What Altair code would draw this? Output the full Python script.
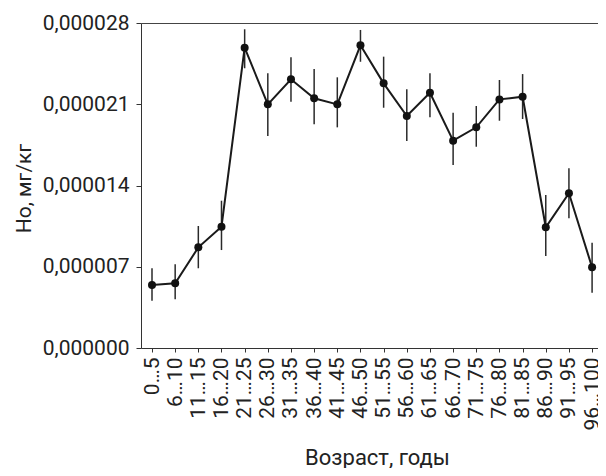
import json
import altair as alt
import pandas as pd

categories = ["0…5", "6…10", "11…15", "16…20", "21…25", "26…30", "31…35",
              "36…40", "41…45", "46…50", "51…55", "56…60", "61…65", "66…70",
              "71…75", "76…80", "81…85", "86…90", "91…95", "96…100"]
means = [5.43e-6, 5.57e-6, 8.67e-6, 10.45e-6, 25.87e-6, 20.99e-6, 23.15e-6,
         21.51e-6, 20.99e-6, 26.08e-6, 22.80e-6, 19.99e-6, 21.99e-6, 17.86e-6,
         19.01e-6, 21.42e-6, 21.65e-6, 10.40e-6, 13.33e-6, 6.95e-6]
lower = [4.07e-6, 4.20e-6, 6.87e-6, 8.44e-6, 24.10e-6, 18.26e-6, 21.22e-6,
         19.27e-6, 19.01e-6, 24.66e-6, 20.70e-6, 17.83e-6, 19.87e-6, 15.77e-6,
         17.34e-6, 19.58e-6, 19.73e-6, 7.93e-6, 11.17e-6, 4.76e-6]
upper = [6.87e-6, 7.21e-6, 10.51e-6, 12.69e-6, 27.46e-6, 23.67e-6, 25.04e-6,
         24.04e-6, 23.32e-6, 27.40e-6, 25.10e-6, 22.29e-6, 23.67e-6, 20.27e-6,
         20.85e-6, 23.09e-6, 23.60e-6, 13.18e-6, 15.48e-6, 9.07e-6]
y_ticks = [0.0, 0.000007, 0.000014, 0.000021, 0.000028]

df = pd.DataFrame({
    "idx": list(range(len(categories))),
    "cat": categories,
    "mean": means,
    "lo": lower,
    "hi": upper,
})

FONT = "Roboto, Liberation Sans, sans-serif"
W, H = 457, 325

x_scale = alt.Scale(domain=[-0.475, 19.255], nice=False, zero=False)
y_scale = alt.Scale(domain=[0, 0.000028], nice=False, zero=True)

x_axis = alt.Axis(
    values=list(range(len(categories))),
    labelExpr=json.dumps(categories, ensure_ascii=False) + "[datum.value]",
    labelAngle=-90,
    labelAlign="right",
    labelBaseline="middle",
    labelPadding=5,
    tickSize=4,
    grid=False,
    title="Возраст, годы",
    titleX=236,
    titleY=116,
    titleBaseline="alphabetic",
    labelFontSize=21,
    titleFontSize=22,
    labelOverlap=False,
)
x_top_axis = alt.Axis(
    orient="top",
    labels=False,
    ticks=False,
    grid=False,
    title=None,
    domain=True,
    domainColor="#444444",
)
y_axis = alt.Axis(
    values=y_ticks,
    labelExpr="replace(format(datum.value, '.6f'), '.', ',')",
    tickSize=5,
    labelPadding=7,
    grid=False,
    title="Но, мг/кг",
    titleX=-111,
    titleY=165,
    titleAngle=270,
    titleAlign="center",
    titleBaseline="alphabetic",
    labelFontSize=21,
    titleFontSize=21,
)

err = alt.Chart(df).mark_rule(color="#2a2a2a", strokeWidth=1.5).encode(
    x=alt.X("idx:Q", scale=x_scale, axis=None),
    y=alt.Y("lo:Q", scale=y_scale, axis=y_axis),
    y2="hi:Q",
)
line = alt.Chart(df).mark_line(color="#1a1a1a", strokeWidth=2).encode(
    x=alt.X("idx:Q", scale=x_scale, axis=x_axis),
    y=alt.Y("mean:Q", scale=y_scale, axis=y_axis),
)
pts = alt.Chart(df).mark_circle(color="#111111", opacity=1, size=64).encode(
    x=alt.X("idx:Q", scale=x_scale, axis=x_top_axis),
    y=alt.Y("mean:Q", scale=y_scale, axis=y_axis),
)

chart = alt.layer(err, line, pts).resolve_axis(x="independent").properties(
    width=W,
    height=H,
    autosize=alt.AutoSizeParams(type="none"),
    padding={"left": 133, "top": 15, "right": 0, "bottom": 120},
).configure_axis(
    labelFont=FONT,
    titleFont=FONT,
    labelColor="#222222",
    titleColor="#222222",
    titleFontWeight="normal",
    domainColor="#333333",
    tickColor="#333333",
    domainWidth=1,
    tickWidth=1,
).configure_view(
    strokeWidth=0,
)

chart.save("out.html", embed_options={"renderer": "svg", "actions": False})
